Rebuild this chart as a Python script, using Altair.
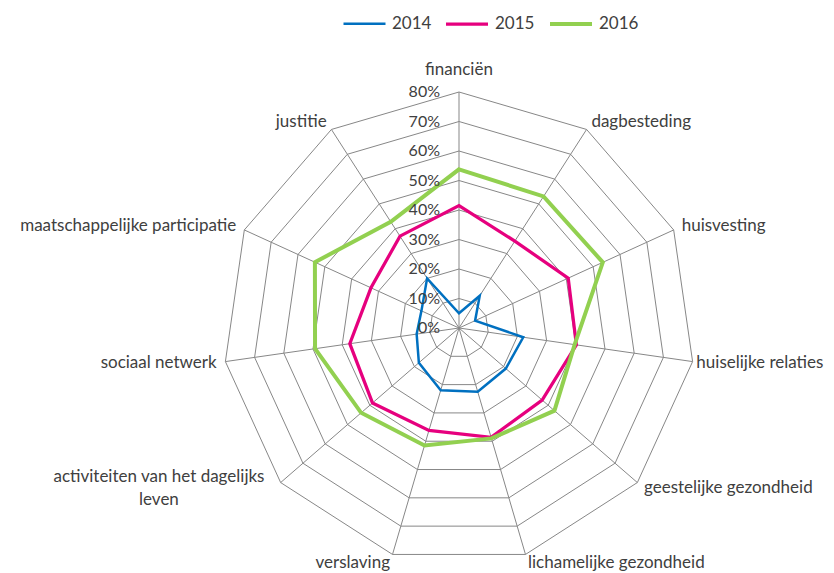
import altair as alt
import pandas as pd

categories = ["financiën", "dagbesteding", "huisvesting", "huiselijke relaties",
              "geestelijke gezondheid", "lichamelijke gezondheid", "verslaving",
              "activiteiten van het dagelijks leven", "sociaal netwerk",
              "maatschappelijke participatie", "justitie"]
years = ["2014", "2015", "2016"]
values_2014 = [5, 13, 6, 22, 21, 22.5, 22, 18, 14.5, 14, 20]
values_2015 = [41.5, 35, 40.7, 40.2, 37.3, 38.6, 36.2, 38.8, 37.4, 32.8, 37]
values_2016 = [53.8, 53, 53.6, 39.6, 42.8, 39, 41.5, 43.9, 49.3, 53.7, 42.8]
tick_values = [0, 10, 20, 30, 40, 50, 60, 70, 80]
tick_labels = ["0%", "10%", "20%", "30%", "40%", "50%", "60%", "70%", "80%"]

colors = ["#0070C0", "#E6007E", "#92D050"]
widths = [2.5, 4, 4]
FONT = "Lato"
TXT = "#404040"
GRID = "#878787"
N = len(categories)
RMAX = max(tick_values)

series_df = pd.DataFrame([
    {"category": c, "idx": i, "year": y, "value": v}
    for y, vals in zip(years, [values_2014, values_2015, values_2016])
    for i, (c, v) in enumerate(zip(categories, vals))
])
grid_df = pd.DataFrame([{"idx": i, "level": lv} for lv in tick_values if lv > 0 for i in range(N)])
spoke_df = pd.DataFrame({"idx": list(range(N))})
label_df = pd.DataFrame({"category": categories, "idx": list(range(N))})
tick_df = pd.DataFrame({"level": tick_values, "label": tick_labels})

ANG = f"datum.idx * 2 * PI / {N}"
W, H = 818, 565
CX, CY, PPU = 451, 320, 2.95
xs = alt.Scale(domain=[-CX / PPU, (W - CX) / PPU], nice=False, zero=False)
ys = alt.Scale(domain=[-(H - CY) / PPU, CY / PPU], nice=False, zero=False)


def X(f):
    return alt.X(f"{f}:Q", scale=xs, axis=None)


def Y(f):
    return alt.Y(f"{f}:Q", scale=ys, axis=None)


rings = alt.Chart(grid_df).transform_calculate(
    gx=f"datum.level * sin({ANG})", gy=f"datum.level * cos({ANG})"
).mark_line(interpolate="linear-closed", color=GRID, strokeWidth=1).encode(
    x=X("gx"), y=Y("gy"), detail="level:N", order="idx:Q"
)

spokes = alt.Chart(spoke_df).transform_calculate(
    zx="0", zy="0",
    ex=f"{RMAX} * sin({ANG})", ey=f"{RMAX} * cos({ANG})"
).mark_rule(color=GRID, strokeWidth=1).encode(
    x=X("zx"), y=Y("zy"), x2="ex:Q", y2="ey:Q"
)

legend = alt.Legend(
    orient="none", legendX=334, legendY=-7, direction="horizontal", title=None,
    symbolType="stroke", symbolSize=1764, labelFont=FONT, labelFontSize=17,
    labelColor=TXT, labelOffset=5, columnPadding=7,
)

lines = alt.Chart(series_df).transform_calculate(
    px=f"datum.value * sin({ANG})", py=f"datum.value * cos({ANG})"
).mark_line(interpolate="linear-closed").encode(
    x=X("px"), y=Y("py"),
    color=alt.Color("year:O", scale=alt.Scale(domain=years, range=colors), legend=legend),
    strokeWidth=alt.StrokeWidth("year:O", scale=alt.Scale(domain=years, range=widths), legend=legend),
    order="idx:Q",
)

ticks = alt.Chart(tick_df).transform_calculate(tx="0").mark_text(
    align="right", baseline="middle", dx=-19, font=FONT, fontSize=16, color=TXT
).encode(x=X("tx"), y=Y("level"), text="label:N")

LR = RMAX + 3
lab_base = alt.Chart(label_df).transform_calculate(
    lx=f"{LR} * sin({ANG})", ly=f"{LR} * cos({ANG})",
    txt="replace(datum.category, 'dagelijks ', 'dagelijks\\n')"
)
common = dict(font=FONT, fontSize=17, color=TXT, lineBreak="\n", lineHeight=23)
lab_top = lab_base.transform_filter("datum.idx == 0").mark_text(
    align="center", baseline="bottom", dy=-4, **common
).encode(x=X("lx"), y=Y("ly"), text="txt:N")
lab_right = lab_base.transform_filter(f"datum.idx > 0 && datum.idx <= {N // 2} && datum.idx != 3").mark_text(
    align="left", baseline="middle", **common
).encode(x=X("lx"), y=Y("ly"), text="txt:N")
lab_edge = lab_base.transform_filter("datum.idx == 3").mark_text(
    align="left", baseline="middle", dx=-5, **common
).encode(x=X("lx"), y=Y("ly"), text="txt:N")
lab_left = lab_base.transform_filter(f"datum.idx > {N // 2} && datum.idx != 7").mark_text(
    align="right", baseline="middle", **common
).encode(x=X("lx"), y=Y("ly"), text="txt:N")
lab_multi = lab_base.transform_filter("datum.idx == 7").mark_text(
    align="center", baseline="middle", dx=-115, dy=-11.5, **common
).encode(x=X("lx"), y=Y("ly"), text="txt:N")

chart = alt.layer(rings, spokes, lines, ticks, lab_top, lab_right, lab_edge, lab_left, lab_multi).properties(
    width=W, height=H, autosize=alt.AutoSizeParams(type="none"), padding=0
).configure_view(stroke=None)

chart.save("out.html", embed_options={"renderer": "svg", "actions": False})
